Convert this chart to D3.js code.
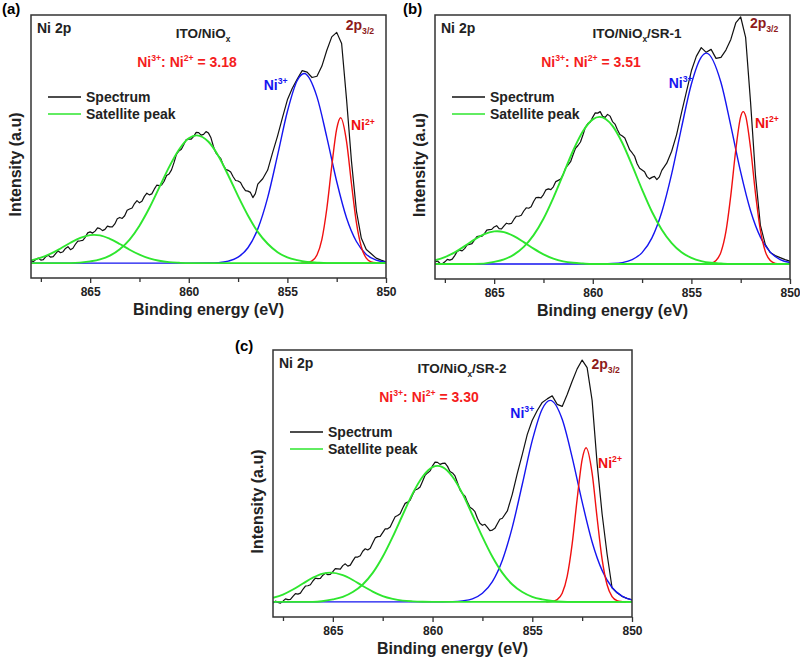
<!DOCTYPE html>
<html>
<head>
<meta charset="utf-8">
<script src="https://cdn.jsdelivr.net/npm/d3@7"></script>
<style>
  body { margin: 0; background: #fff; }
  svg text { font-family: Arial, "Liberation Sans", sans-serif; font-weight: bold; }
</style>
</head>
<body>
<svg id="chart" width="800" height="660"></svg>
<script>
// x axis (binding energy, eV)
const majorTicks = [865, 860, 855, 850];
const minorTicks = [867.5, 862.5, 857.5, 852.5];
const panelLetters = ["(a)", "(b)", "(c)"];
const sampleSuffix = ["", "/SR-1", "/SR-2"];
const ratioValues = ["3.18", "3.51", "3.30"];
const legendLabels = ["Spectrum", "Satellite peak"];

// measured spectra [energy, intensity]
const spectrumA = [[868.00,1.0],[867.875,0.6],[867.75,1.5],[867.625,2.0],[867.50,1.2],[867.375,1.4],[867.25,2.6],[867.125,3.2],[867.00,2.4],[866.875,2.6],[866.75,3.8],[866.625,4.9],[866.50,4.2],[866.375,4.6],[866.25,5.9],[866.125,6.6],[866.00,5.4],[865.875,6.0],[865.75,7.6],[865.625,8.9],[865.50,9.0],[865.375,9.2],[865.25,10.4],[865.125,12.2],[865.00,12.6],[864.875,12.1],[864.75,12.9],[864.625,14.2],[864.50,13.9],[864.375,13.1],[864.25,13.6],[864.125,14.9],[864.00,14.6],[863.875,14.6],[863.75,15.8],[863.625,17.9],[863.50,18.4],[863.375,18.0],[863.25,19.1],[863.125,21.3],[863.00,21.8],[862.875,22.2],[862.75,24.0],[862.625,25.2],[862.50,24.3],[862.375,24.9],[862.25,26.9],[862.125,28.2],[862.00,27.5],[861.875,27.9],[861.75,29.8],[861.625,31.4],[861.50,31.2],[861.375,31.5],[861.25,33.0],[861.125,35.3],[861.00,35.9],[860.875,37.6],[860.75,40.5],[860.625,43.8],[860.50,45.2],[860.375,45.9],[860.25,47.8],[860.125,49.8],[860.00,50.0],[859.875,50.0],[859.75,51.1],[859.625,52.7],[859.50,52.6],[859.375,51.6],[859.25,51.9],[859.125,53.0],[859.00,52.4],[858.875,50.5],[858.75,47.0],[858.625,44.4],[858.50,43.2],[858.375,42.1],[858.25,39.5],[858.125,37.8],[858.00,37.4],[857.875,36.7],[857.75,34.8],[857.625,33.3],[857.50,33.1],[857.375,32.5],[857.25,30.6],[857.125,29.2],[857.00,29.0],[856.875,28.5],[856.75,26.4],[856.625,28.0],[856.50,31.8],[856.25,34.0],[856.00,37.5],[855.75,44.5],[855.50,51.2],[855.25,58.6],[855.00,65.8],[854.75,70.5],[854.50,74.2],[854.25,77.6],[854.00,77.0],[853.75,74.8],[853.50,75.3],[853.25,79.4],[853.00,85.8],[852.75,91.2],[852.50,93.0],[852.25,88.5],[852.00,66.0],[851.75,41.0],[851.50,21.0],[851.25,10.0],[851.00,5.5],[850.75,3.8],[850.50,2.0],[850.25,1.2],[850.00,0.5]];
const spectrumB = [[868.00,0.8],[867.875,1.2],[867.75,0.3],[867.625,0.1],[867.50,0.9],[867.375,1.9],[867.25,1.6],[867.125,2.0],[867.00,3.4],[866.875,5.1],[866.75,5.6],[866.625,5.3],[866.50,6.2],[866.375,7.7],[866.25,7.9],[866.125,8.2],[866.00,9.6],[865.875,11.0],[865.75,11.2],[865.625,11.1],[865.50,12.1],[865.375,13.6],[865.25,13.8],[865.125,13.9],[865.00,14.9],[864.875,15.4],[864.75,14.2],[864.625,14.1],[864.50,15.3],[864.375,16.4],[864.25,16.1],[864.125,16.3],[864.00,17.9],[863.875,19.2],[863.75,19.2],[863.625,19.6],[863.50,21.3],[863.375,22.6],[863.25,22.4],[863.125,23.0],[863.00,25.1],[862.875,26.7],[862.75,26.8],[862.625,26.6],[862.50,27.9],[862.375,29.8],[862.25,30.2],[862.125,29.9],[862.00,31.0],[861.875,33.1],[861.75,33.6],[861.625,34.1],[861.50,36.0],[861.375,38.6],[861.25,39.8],[861.125,41.1],[861.00,43.9],[860.875,46.5],[860.75,47.6],[860.625,49.0],[860.50,51.8],[860.375,54.9],[860.25,56.4],[860.125,57.0],[860.00,59.0],[859.875,60.7],[859.75,60.6],[859.625,61.2],[859.50,59.3],[859.375,58.9],[859.25,60.1],[859.125,59.4],[859.00,57.2],[858.875,56.2],[858.75,53.9],[858.625,52.0],[858.50,51.4],[858.375,50.6],[858.25,48.2],[858.125,45.8],[858.00,44.6],[857.875,43.2],[857.75,40.3],[857.625,38.5],[857.50,37.8],[857.375,37.1],[857.25,35.1],[857.125,34.2],[857.00,34.8],[856.875,35.2],[856.75,33.9],[856.625,35.0],[856.50,37.6],[856.25,40.5],[856.00,45.3],[855.75,52.0],[855.50,60.8],[855.25,69.2],[855.00,77.6],[854.75,83.4],[854.50,86.9],[854.25,85.0],[854.00,86.2],[853.75,82.6],[853.50,83.0],[853.25,85.9],[853.00,90.2],[852.75,96.8],[852.50,99.2],[852.25,91.0],[852.00,65.0],[851.75,35.5],[851.50,15.5],[851.25,7.8],[851.00,4.6],[850.75,3.4],[850.50,2.6],[850.25,1.8],[850.00,1.2]];
const spectrumC = [[868.00,-0.4],[867.875,0.3],[867.75,-0.2],[867.625,-0.5],[867.50,0.3],[867.375,1.2],[867.25,0.9],[867.125,1.0],[867.00,2.2],[866.875,3.3],[866.75,3.1],[866.625,3.5],[866.50,5.0],[866.375,6.3],[866.25,6.4],[866.125,6.8],[866.00,8.3],[865.875,9.4],[865.75,9.2],[865.625,9.3],[865.50,10.6],[865.375,11.4],[865.25,10.8],[865.125,10.9],[865.00,12.0],[864.875,13.2],[864.75,13.1],[864.625,13.0],[864.50,14.4],[864.375,15.1],[864.25,14.2],[864.125,14.6],[864.00,16.3],[863.875,17.8],[863.75,17.8],[863.625,18.3],[863.50,20.1],[863.375,21.1],[863.25,20.6],[863.125,21.3],[863.00,23.4],[862.875,25.4],[862.75,25.9],[862.625,26.0],[862.50,27.5],[862.375,29.0],[862.25,29.0],[862.125,29.7],[862.00,31.8],[861.875,33.8],[861.75,34.3],[861.625,35.0],[861.50,37.2],[861.375,39.1],[861.25,39.6],[861.125,40.3],[861.00,42.5],[860.875,44.4],[860.75,44.8],[860.625,45.6],[860.50,47.9],[860.375,50.3],[860.25,51.2],[860.125,52.0],[860.00,54.0],[859.875,55.5],[859.75,55.4],[859.625,54.6],[859.50,55.0],[859.375,55.1],[859.25,53.8],[859.125,51.8],[859.00,51.2],[858.875,50.0],[858.75,47.3],[858.625,44.5],[858.50,43.0],[858.375,42.0],[858.25,39.6],[858.125,37.6],[858.00,36.9],[857.875,35.8],[857.75,33.2],[857.625,31.2],[857.50,30.4],[857.375,30.8],[857.25,29.6],[857.125,28.3],[857.00,28.5],[856.875,29.2],[856.75,31.0],[856.625,32.8],[856.50,33.2],[856.25,36.1],[856.00,42.8],[855.75,51.0],[855.50,58.6],[855.25,66.5],[855.00,72.1],[854.75,76.0],[854.50,79.2],[854.25,80.6],[854.00,81.8],[853.75,78.4],[853.50,77.6],[853.25,82.3],[853.00,87.6],[852.75,92.5],[852.50,96.0],[852.25,93.0],[852.00,80.0],[851.75,55.0],[851.50,35.0],[851.25,19.0],[851.00,5.6],[850.75,3.6],[850.50,2.2],[850.25,1.4],[850.00,0.8]];

// fitted Ni3+ components
const ni3A = [[868,0],[860,0],[859,0.05],[858.5,0.2],[858,0.8],[857.5,2.4],[857,6.2],[856.5,13.8],[856,26.4],[855.5,43.4],[855,61.1],[854.5,73.6],[854.15,76.4],[853.5,67.0],[853,50.7],[852.5,32.9],[852,18.2],[851.5,8.7],[851,3.5],[850.5,1.2],[850,0.4]];
const ni3B = [[868,0],[860,0],[859,0.2],[858.5,0.6],[858,1.8],[857.5,4.6],[857,10.5],[856.5,20.9],[856,36.2],[855.5,54.8],[855,72.3],[854.5,83.1],[854.24,84.7],[853.5,72.9],[853,55.5],[852.5,36.9],[852,21.4],[851.5,10.8],[851,4.8],[850.5,1.8],[850,0.6]];
const ni3C = [[868,0],[860,0],[859,0.1],[858.5,0.4],[858,1.2],[857.5,3.4],[857,8.0],[856.5,16.5],[856,29.7],[855.5,46.7],[855,64.1],[854.5,76.6],[854.1,80.0],[853.5,72.5],[853,57.4],[852.5,39.7],[852,23.8],[851.5,12.5],[851,5.7],[850.5,2.3],[850,0.8]];

// fitted Ni2+ components
const ni2A = [[854.3,0],[854,0.2],[853.75,0.9],[853.5,3.3],[853.25,9.6],[853,22.0],[852.75,39.1],[852.5,54.1],[852.3,58.6],[852,49.0],[851.75,32.0],[851.5,16.3],[851.25,6.5],[851,2.0],[850.75,0.5],[850.5,0.1],[850.3,0]];
const ni2B = [[854.3,0],[854,0.3],[853.75,1.4],[853.5,4.8],[853.25,13.0],[853,27.7],[852.75,45.8],[852.5,59.2],[852.37,61.2],[852.25,59.5],[852,46.6],[851.75,28.4],[851.5,13.5],[851.25,5.0],[851,1.4],[850.75,0.3],[850.5,0.05],[850.3,0]];
const ni2C = [[854.3,0],[854,0.2],[853.75,0.9],[853.5,3.4],[853.25,10.1],[853,23.0],[852.75,40.8],[852.5,56.5],[852.3,61.2],[852,51.1],[851.75,33.4],[851.5,17.0],[851.25,6.8],[851,2.1],[850.75,0.5],[850.5,0.1],[850.3,0]];

// satellite peaks
const satBigA = [[868,0],[866,0],[865,0.7],[864.5,1.5],[864,3.0],[863.5,5.6],[863,9.5],[862.5,15.1],[862,22.2],[861.5,30.4],[861,38.7],[860.5,45.7],[860,50.3],[859.6,51.5],[859,48.9],[858.5,43.2],[858,35.4],[857.5,27.0],[857,19.2],[856.5,12.6],[856,7.8],[855.5,4.4],[855,2.3],[854.5,1.2],[854,0.5],[853.5,0.2],[853,0],[850,0]];
const satSmallA = [[868,1.1],[867.5,2.2],[867,3.8],[866.5,5.9],[866,8.2],[865.5,10.2],[865,11.3],[864.8,11.4],[864.5,11.2],[864,9.8],[863.5,7.7],[863,5.4],[862.5,3.4],[862,1.9],[861.5,0.95],[861,0.4],[860.5,0.15],[860,0],[850,0]];
const satBigB = [[868,0],[866,0],[865,0.9],[864.5,1.9],[864,3.8],[863.5,6.9],[863,11.6],[862.5,18.2],[862,26.6],[861.5,36.0],[861,45.5],[860.5,53.3],[860,58.1],[859.66,59.1],[859,55.5],[858.5,48.6],[858,39.5],[857.5,29.9],[857,21.0],[856.5,13.8],[856,8.4],[855.5,4.7],[855,2.5],[854.5,1.2],[854,0.5],[853.5,0.2],[853,0],[850,0]];
const satSmallB = [[868,1.5],[867.5,2.8],[867,4.7],[866.5,7.2],[866,9.8],[865.5,12.0],[865,13.1],[864.85,13.2],[864.5,12.8],[864,11.2],[863.5,8.8],[863,6.2],[862.5,3.9],[862,2.2],[861.5,1.1],[861,0.5],[860.5,0.2],[860,0],[850,0]];
const satBigC = [[868,0],[866,0],[865,1.0],[864.5,2.0],[864,3.9],[863.5,6.9],[863,11.5],[862.5,17.9],[862,25.8],[861.5,34.5],[861,43.0],[860.5,49.7],[860,53.5],[859.75,54.0],[859.5,53.5],[859,49.7],[858.5,43.0],[858,34.5],[857.5,25.8],[857,17.9],[856.5,11.5],[856,6.9],[855.5,3.9],[855,2.0],[854.5,1.0],[854,0.4],[853.5,0.1],[853,0],[850,0]];
const satSmallC = [[868,1.6],[867.5,2.9],[867,4.9],[866.5,7.3],[866,9.6],[865.5,11.2],[865.1,11.6],[864.5,10.6],[864,8.7],[863.5,6.3],[863,4.1],[862.5,2.3],[862,1.2],[861.5,0.5],[861,0.2],[860.5,0.05],[860,0],[850,0]];

const colors = { spectrum: "#111", sat: "#2ee62e", ni3: "#1515f0", ni2: "#f01010", ratio: "#f51d1d", p32: "#8e1b1b", frame: "#333" };

const panels = [
  { box: { x: 31, y: 15, w: 355, h: 263 }, letter: [2, 14], spectrum: spectrumA, ni3: ni3A, ni2: ni2A, sats: [satBigA, satSmallA],
    titleX: 172, ni3Label: [856.2, 71.7], ni2Label: [851.78, 55.5], p32Label: [852.04, 95.8] },
  { box: { x: 435, y: 15, w: 355, h: 264 }, letter: [403, 14], spectrum: spectrumB, ni3: ni3B, ni2: ni2B, sats: [satBigB, satSmallB],
    titleX: 202, ni3Label: [856.15, 72.6], ni2Label: [851.78, 56.5], p32Label: [852.03, 96.8] },
  { box: { x: 273, y: 350, w: 359, h: 267 }, letter: [235, 351], spectrum: spectrumC, ni3: ni3C, ni2: ni2C, sats: [satBigC, satSmallC],
    titleX: 189, ni3Label: [856.1, 75.1], ni2Label: [851.7, 55.3], p32Label: [852.03, 94.3] }
];

const svg = d3.select("#chart");

// write text made of normal / sup / sub pieces
function richText(sel, parts, size) {
  let shift = 0;
  parts.forEach(p => {
    const target = p.k === "sup" ? -0.42 * size : p.k === "sub" ? 0.28 * size : 0;
    sel.append("tspan")
       .attr("dy", target - shift)
       .attr("font-size", p.k ? size * 0.62 : size)
       .text(p.t);
    shift = target;
  });
}

panels.forEach((p, i) => {
  const { x: bx, y: by, w, h } = p.box;
  const x = d3.scaleLinear().domain([868, 850]).range([0, w]);
  const y = d3.scaleLinear().domain([-6, 100]).range([h, 0]);

  svg.append("text").attr("x", p.letter[0]).attr("y", p.letter[1])
     .attr("font-size", 15).text(panelLetters[i]);

  const g = svg.append("g").attr("transform", `translate(${bx},${by})`);

  g.append("clipPath").attr("id", "clip" + i)
   .append("rect").attr("width", w).attr("height", h);

  const plot = g.append("g").attr("clip-path", `url(#clip${i})`);
  const rough = d3.line().x(d => x(d[0])).y(d => y(d[1]));
  const smooth = d3.line().x(d => x(d[0])).y(d => y(d[1])).curve(d3.curveMonotoneX);

  plot.append("path").datum(p.spectrum).attr("d", rough)
      .attr("fill", "none").attr("stroke", colors.spectrum).attr("stroke-width", 1.2).attr("stroke-linejoin", "round");
  plot.append("path").datum(p.ni3).attr("d", smooth)
      .attr("fill", "none").attr("stroke", colors.ni3).attr("stroke-width", 1.4);
  plot.append("path").datum(p.ni2).attr("d", smooth)
      .attr("fill", "none").attr("stroke", colors.ni2).attr("stroke-width", 1.4);
  p.sats.forEach(s => {
    plot.append("path").datum(s).attr("d", smooth)
        .attr("fill", "none").attr("stroke", colors.sat).attr("stroke-width", 1.9);
  });

  // axes
  const major = g.append("g").attr("transform", `translate(0,${h})`)
    .call(d3.axisBottom(x).tickValues(majorTicks).tickSize(5).tickPadding(4).tickFormat(d3.format("d")));
  const minor = g.append("g").attr("transform", `translate(0,${h})`)
    .call(d3.axisBottom(x).tickValues(minorTicks).tickSize(4).tickFormat(""));
  [major, minor].forEach(a => {
    a.select(".domain").remove();
    a.selectAll("line").attr("stroke", colors.frame).attr("stroke-width", 1.3);
  });
  major.selectAll("text").attr("font-size", 12).attr("fill", "#222")
       .style("font-family", "Arial, 'Liberation Sans', sans-serif").style("font-weight", "bold");

  g.append("rect").attr("width", w).attr("height", h)
   .attr("fill", "none").attr("stroke", colors.frame).attr("stroke-width", 1.5);

  g.append("text").attr("x", w / 2).attr("y", h + 37).attr("text-anchor", "middle")
   .attr("font-size", 16).attr("fill", "#222").text("Binding energy (eV)");
  g.append("text").attr("transform", `translate(-16,${h / 2 + 18}) rotate(-90)`)
   .attr("text-anchor", "middle").attr("dy", "0.35em")
   .attr("font-size", 16).attr("fill", "#222").text("Intensity (a.u)");

  // in-plot labels
  g.append("text").attr("x", 6).attr("y", 18).attr("font-size", 14).attr("fill", "#222").text("Ni 2p");

  const title = g.append("text").attr("x", p.titleX).attr("y", 23)
    .attr("text-anchor", "middle").attr("fill", "#222");
  const tParts = [{ t: "ITO/NiO" }, { t: "x", k: "sub" }];
  if (sampleSuffix[i]) tParts.push({ t: sampleSuffix[i] });
  richText(title, tParts, 13.5);

  const ratio = g.append("text").attr("x", 156).attr("y", 52)
    .attr("text-anchor", "middle").attr("fill", colors.ratio);
  richText(ratio, [{ t: "Ni" }, { t: "3+", k: "sup" }, { t: ": Ni" }, { t: "2+", k: "sup" }, { t: " = " + ratioValues[i] }], 14);

  const l3 = g.append("text").attr("x", x(p.ni3Label[0])).attr("y", y(p.ni3Label[1]) + 5).attr("fill", colors.ni3);
  richText(l3, [{ t: "Ni" }, { t: "3+", k: "sup" }], 14);
  const l2 = g.append("text").attr("x", x(p.ni2Label[0])).attr("y", y(p.ni2Label[1]) + 5).attr("fill", colors.ni2);
  richText(l2, [{ t: "Ni" }, { t: "2+", k: "sup" }], 14);
  const lp = g.append("text").attr("x", x(p.p32Label[0])).attr("y", y(p.p32Label[1]) + 5).attr("fill", colors.p32);
  richText(lp, [{ t: "2p" }, { t: "3/2", k: "sub" }], 14);

  // legend
  const legend = g.append("g");
  [colors.spectrum, colors.sat].forEach((c, k) => {
    const ly = 82 + k * 17;
    legend.append("line").attr("x1", 17).attr("x2", 50).attr("y1", ly).attr("y2", ly)
          .attr("stroke", c).attr("stroke-width", 1.6);
    legend.append("text").attr("x", 55).attr("y", ly + 5).attr("font-size", 14)
          .attr("fill", "#222").text(legendLabels[k]);
  });
});
</script>
</body>
</html>
